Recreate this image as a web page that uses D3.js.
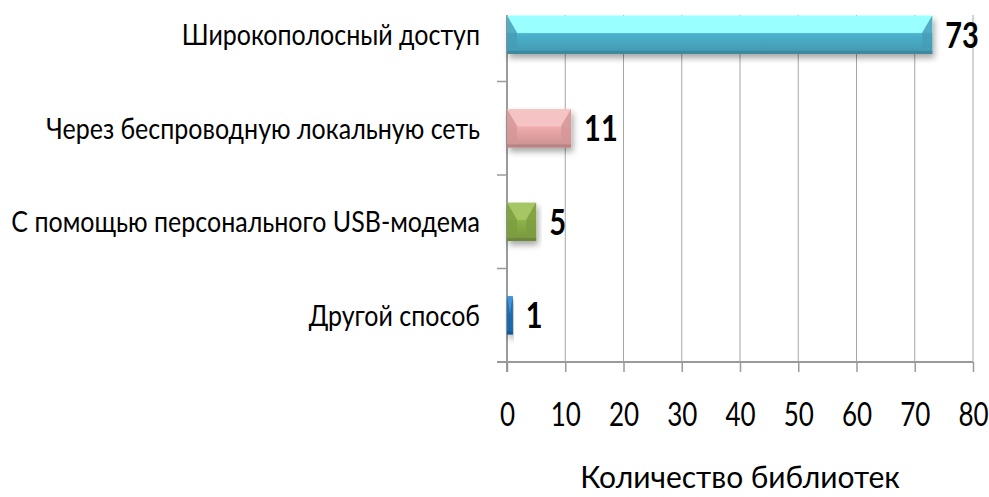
<!DOCTYPE html>
<html lang="ru">
<head>
<meta charset="UTF-8">
<title>Количество библиотек</title>
<script src="https://d3js.org/d3.v7.min.js"></script>
<style>
  body { margin: 0; background: #fff; }
  text { font-family: Lato, "Open Sans", sans-serif; fill: #000; }
</style>
</head>
<body>
<div id="chart"></div>
<script>
// data
const categories = ["Широкополосный доступ", "Через беспроводную локальную сеть", "С помощью персонального USB-модема", "Другой способ"];
const values = [73, 11, 5, 1];
const lightColors = ["#99ffff", "#f5c3c3", "#a6c565", "#3d94d8"];
const baseColors = ["#4aaac4", "#e3a2a2", "#86a945", "#1d70b8"];
const xTicks = [0, 10, 20, 30, 40, 50, 60, 70, 80];
const xTitle = "Количество библиотек";

const W = 989, H = 497;
const plot = { left: 507, right: 973, top: 15, bottom: 362 };

const svg = d3.select("#chart").append("svg")
  .attr("width", W).attr("height", H);

const defs = svg.append("defs");
const shadow = defs.append("filter").attr("id", "shadow")
  .attr("x", "-20%").attr("y", "-30%").attr("width", "140%").attr("height", "180%");
shadow.append("feDropShadow").attr("dx", 2).attr("dy", 4).attr("stdDeviation", 3)
  .attr("flood-color", "#000").attr("flood-opacity", 0.35);

categories.forEach((c, i) => {
  const g = defs.append("linearGradient").attr("id", "grad" + i)
    .attr("x1", 0).attr("y1", 0).attr("x2", 0).attr("y2", 1);
  const base = d3.color(baseColors[i]);
  g.append("stop").attr("offset", "0%").attr("stop-color", lightColors[i]);
  g.append("stop").attr("offset", "44%").attr("stop-color", lightColors[i]);
  g.append("stop").attr("offset", "47%").attr("stop-color", base.brighter(0.15));
  g.append("stop").attr("offset", "100%").attr("stop-color", base.darker(0.35));
});

const x = d3.scaleLinear().domain([0, 80]).range([plot.left, plot.right]);
const y = d3.scaleBand().domain(categories).range([-12, plot.bottom])
  .paddingInner(0.59).paddingOuter(0.295);

// gridlines
svg.append("g").selectAll("line").data(xTicks.slice(1)).join("line")
  .attr("x1", d => x(d)).attr("x2", d => x(d))
  .attr("y1", plot.top).attr("y2", plot.bottom)
  .attr("stroke", "#a6a6a6").attr("stroke-width", 1);

// x axis
const xAxis = svg.append("g").attr("transform", `translate(0,${plot.bottom})`)
  .call(d3.axisBottom(x).tickValues(xTicks).tickSize(10).tickPadding(0).tickSizeOuter(0));
xAxis.select(".domain").attr("stroke", "#9a9a9a").attr("stroke-width", 2)
  .attr("d", `M${plot.left - 10},0H${plot.right}`);
xAxis.selectAll(".tick line").attr("stroke", "#9a9a9a").attr("stroke-width", 1.5);
xAxis.selectAll(".tick text")
  .attr("y", 0).attr("dy", 0)
  .attr("transform", "translate(0,64) scale(1,1.28)")
  .attr("font-size", 26).attr("font-family", "Lato, sans-serif");

// y axis
svg.append("line")
  .attr("x1", plot.left).attr("x2", plot.left)
  .attr("y1", plot.top).attr("y2", plot.bottom + 10)
  .attr("stroke", "#9a9a9a").attr("stroke-width", 2);
const boundaries = categories.slice(1).map(c => y(c) - y.step() * y.paddingInner() / 2);
svg.append("g").selectAll("line").data(boundaries).join("line")
  .attr("x1", plot.left - 10).attr("x2", plot.left)
  .attr("y1", d => d).attr("y2", d => d)
  .attr("stroke", "#9a9a9a").attr("stroke-width", 1.5);

// category labels
svg.append("g").selectAll("text").data(categories).join("text")
  .attr("transform", d => `translate(480,${y(d) + y.bandwidth() / 2}) scale(1,1.15)`)
  .attr("text-anchor", "end").attr("dy", "0.36em")
  .attr("font-size", 25)
  .text(d => d);

// bars
const bars = svg.append("g").selectAll("g").data(values).join("g")
  .attr("transform", (d, i) => `translate(${x(0)},${y(categories[i])})`)
  .attr("filter", "url(#shadow)");

bars.each(function (v, i) {
  const g = d3.select(this);
  const w = x(v) - x(0), h = y.bandwidth();
  const b = Math.min(10, w / 2);
  const bt = h * 0.44;
  const base = d3.color(baseColors[i]);
  g.append("rect").attr("width", w).attr("height", h).attr("fill", `url(#grad${i})`);
  // end bevels
  g.append("path")
    .attr("d", `M0,0L${b},${bt}L${b},${h - 3}L0,${h}Z`)
    .attr("fill", base.darker(0.2)).attr("opacity", 0.85);
  g.append("path")
    .attr("d", `M${w},0L${w - b},${bt}L${w - b},${h - 3}L${w},${h}Z`)
    .attr("fill", base.darker(0.2)).attr("opacity", 0.85);
  // bottom edge
  g.append("rect").attr("y", h - 3).attr("width", w).attr("height", 3)
    .attr("fill", base.darker(0.6));
});

// value labels
svg.append("g").selectAll("text").data(values).join("text")
  .attr("transform", (d, i) => `translate(${x(d) + 13},${y(categories[i]) + y.bandwidth() / 2}) scale(1,1.25)`)
  .attr("dy", "0.36em").attr("font-size", 29).attr("font-weight", "bold")
  .text(d => d);

// axis title
svg.append("text")
  .attr("transform", `translate(${(plot.left + plot.right) / 2},488) scale(1,1.05)`)
  .attr("text-anchor", "middle").attr("font-size", 30)
  .text(xTitle);
</script>
</body>
</html>
